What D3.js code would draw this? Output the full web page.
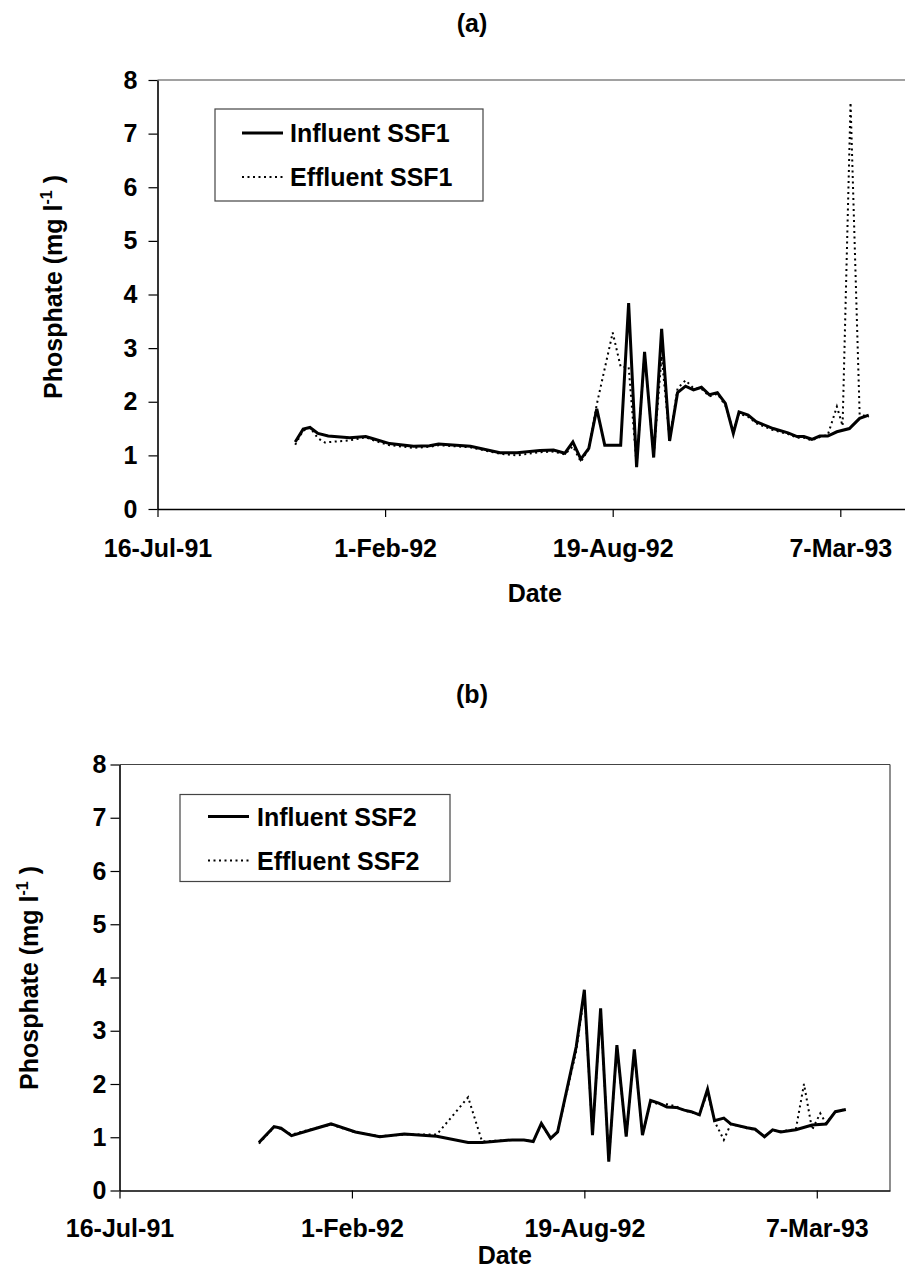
<!DOCTYPE html>
<html><head><meta charset="utf-8">
<script src="https://cdn.jsdelivr.net/npm/d3@7/dist/d3.min.js"></script>
<style>
body{margin:0;background:#fff}
text{font-family:"Liberation Sans",Arial,sans-serif;font-weight:bold;fill:#000}
</style>
</head><body>
<svg id="c" width="905" height="1272"></svg>
<script>
// ---------- data ----------
const xTickDates  = ["1991-07-16","1992-02-01","1992-08-19","1993-03-07"];
const xTickLabels = ["16-Jul-91","1-Feb-92","19-Aug-92","7-Mar-93"];
const xDomain     = ["1991-07-16","1993-05-09"];
const yTicks      = [0,1,2,3,4,5,6,7,8];

const datesInfluentA = ["1991-11-14","1991-11-21","1991-11-27","1991-12-04","1991-12-13","1992-01-01","1992-01-15","1992-01-23","1992-02-05","1992-02-26","1992-03-11","1992-03-19","1992-04-16","1992-05-12","1992-05-27","1992-06-16","1992-06-28","1992-07-08","1992-07-15","1992-07-22","1992-07-29","1992-08-05","1992-08-12","1992-08-26","1992-09-02","1992-09-09","1992-09-16","1992-09-24","1992-10-01","1992-10-08","1992-10-15","1992-10-22","1992-10-29","1992-11-05","1992-11-12","1992-11-19","1992-11-26","1992-12-03","1992-12-08","1992-12-16","1992-12-23","1993-01-07","1993-01-20","1993-01-28","1993-02-03","1993-02-10","1993-02-17","1993-02-24","1993-03-04","1993-03-15","1993-03-24","1993-04-01"];
const valuesInfluentA = [1.25,1.49,1.52,1.41,1.36,1.33,1.35,1.30,1.22,1.17,1.18,1.21,1.17,1.05,1.05,1.09,1.10,1.04,1.25,0.93,1.13,1.87,1.19,1.19,3.84,0.78,2.93,0.96,3.36,1.27,2.17,2.29,2.22,2.27,2.13,2.17,1.97,1.41,1.81,1.75,1.63,1.50,1.42,1.35,1.35,1.30,1.36,1.36,1.44,1.50,1.69,1.75];

const datesEffluentA = ["1991-11-14","1991-11-21","1991-11-27","1991-12-04","1991-12-10","1991-12-20","1991-12-27","1992-01-04","1992-01-15","1992-01-23","1992-02-05","1992-02-26","1992-03-11","1992-03-19","1992-04-16","1992-05-12","1992-05-27","1992-06-16","1992-06-28","1992-07-08","1992-07-15","1992-07-22","1992-07-29","1992-08-05","1992-08-19","1992-08-26","1992-09-02","1992-09-09","1992-09-16","1992-09-24","1992-10-01","1992-10-08","1992-10-15","1992-10-22","1992-10-29","1992-11-05","1992-11-12","1992-11-19","1992-11-26","1992-12-03","1992-12-08","1992-12-16","1992-12-23","1993-01-07","1993-01-20","1993-01-28","1993-02-03","1993-02-10","1993-02-17","1993-02-24","1993-03-04","1993-03-09","1993-03-16","1993-03-24","1993-04-01"];
const valuesEffluentA = [1.20,1.46,1.52,1.32,1.24,1.26,1.27,1.29,1.34,1.27,1.19,1.14,1.16,1.19,1.15,1.03,1.00,1.06,1.07,1.02,1.17,0.88,1.12,1.95,3.29,2.65,2.65,0.82,2.90,1.00,2.85,1.30,2.25,2.40,2.25,2.24,2.10,2.15,1.93,1.45,1.78,1.72,1.60,1.47,1.40,1.33,1.33,1.28,1.34,1.38,1.91,1.55,7.58,1.76,1.72];

const datesInfluentB = ["1991-11-13","1991-11-26","1991-12-02","1991-12-11","1991-12-28","1992-01-14","1992-02-04","1992-02-25","1992-03-17","1992-04-14","1992-05-11","1992-05-23","1992-06-18","1992-06-28","1992-07-06","1992-07-13","1992-07-21","1992-07-27","1992-08-12","1992-08-19","1992-08-26","1992-09-02","1992-09-09","1992-09-16","1992-09-24","1992-10-01","1992-10-08","1992-10-15","1992-10-22","1992-10-29","1992-11-06","1992-11-13","1992-11-19","1992-11-26","1992-12-03","1992-12-09","1992-12-17","1992-12-23","1993-01-06","1993-01-13","1993-01-21","1993-01-28","1993-02-04","1993-02-17","1993-03-03","1993-03-15","1993-03-23","1993-04-01"];
const valuesInfluentB = [0.90,1.20,1.17,1.03,1.14,1.25,1.10,1.01,1.06,1.02,0.90,0.90,0.95,0.95,0.92,1.26,0.98,1.10,2.70,3.77,1.04,3.42,0.54,2.73,1.01,2.65,1.04,1.69,1.64,1.57,1.56,1.51,1.48,1.42,1.90,1.31,1.36,1.25,1.18,1.15,1.01,1.14,1.10,1.14,1.23,1.25,1.48,1.52];

const datesEffluentB = ["1991-11-13","1991-11-26","1991-12-02","1991-12-11","1991-12-28","1992-01-14","1992-02-04","1992-02-25","1992-03-17","1992-04-14","1992-05-11","1992-05-23","1992-06-18","1992-06-28","1992-07-06","1992-07-13","1992-07-21","1992-07-27","1992-08-12","1992-08-19","1992-08-26","1992-09-02","1992-09-09","1992-09-16","1992-09-24","1992-10-01","1992-10-08","1992-10-15","1992-10-22","1992-10-29","1992-11-06","1992-11-13","1992-11-19","1992-11-26","1992-12-03","1992-12-09","1992-12-17","1992-12-23","1993-01-06","1993-01-13","1993-01-21","1993-01-28","1993-02-04","1993-02-17","1993-02-24","1993-03-03","1993-03-10","1993-03-15","1993-03-23","1993-04-01"];
const valuesEffluentB = [0.88,1.19,1.16,1.05,1.15,1.24,1.09,1.02,1.05,1.05,1.75,0.92,0.95,0.95,0.92,1.24,0.98,1.10,2.62,3.70,1.04,3.38,0.56,2.70,1.02,2.62,1.04,1.67,1.62,1.62,1.58,1.50,1.47,1.42,1.85,1.30,0.95,1.25,1.17,1.14,1.02,1.13,1.11,1.15,2.00,1.14,1.45,1.26,1.48,1.53];

// ---------- drawing ----------
const parse = d3.utcParse("%Y-%m-%d");
const svg = d3.select("#c");

function zip(ds, vs){ return ds.map((d,i)=>({date:parse(d), value:vs[i]})); }

function panel(cfg){
  const g = svg.append("g");
  const x = d3.scaleUtc().domain(xDomain.map(parse)).range([cfg.left, cfg.right]);
  const y = d3.scaleLinear().domain([0,8]).range([cfg.bottom, cfg.top]);

  g.append("line").attr("x1",cfg.left).attr("x2",cfg.right).attr("y1",cfg.top).attr("y2",cfg.top)
    .attr("stroke","#444").attr("stroke-width",1.2);
  g.append("line").attr("x1",cfg.right).attr("x2",cfg.right).attr("y1",cfg.top).attr("y2",cfg.bottom)
    .attr("stroke","#444").attr("stroke-width",1.2);

  const ya = g.append("g").attr("transform",`translate(${cfg.left},0)`)
    .call(d3.axisLeft(y).tickValues(yTicks).tickFormat(d3.format("d")).tickSize(9).tickSizeOuter(0).tickPadding(cfg.yPad));
  ya.selectAll("text").style("font-size","25px");
  ya.select(".domain").attr("stroke","#000").attr("stroke-width",1.6);
  ya.selectAll(".tick line").attr("stroke","#000").attr("stroke-width",1.2);

  const xa = g.append("g").attr("transform",`translate(0,${cfg.bottom})`)
    .call(d3.axisBottom(x).tickValues(xTickDates.map(parse)).tickFormat((d,i)=>xTickLabels[i]).tickSize(8).tickSizeOuter(0));
  xa.selectAll("text").style("font-size","25px").attr("dy",0).attr("y",cfg.xLabOff);
  xa.select(".domain").attr("stroke","#000").attr("stroke-width",1.6);
  xa.selectAll(".tick line").attr("stroke","#000").attr("stroke-width",1.2);

  const line = d3.line().x(d=>x(d.date)).y(d=>y(d.value));
  g.append("path").datum(zip(cfg.dIn,cfg.vIn)).attr("d",line)
    .attr("fill","none").attr("stroke","#000").attr("stroke-width",3);
  g.append("path").datum(zip(cfg.dEf,cfg.vEf)).attr("d",line)
    .attr("fill","none").attr("stroke","#000").attr("stroke-width",2).attr("stroke-dasharray","2,3.5");

  g.append("text").attr("x",cfg.titleX).attr("y",cfg.titleY).attr("text-anchor","middle")
    .style("font-size","25px").text(cfg.title);
  g.append("text").attr("x",(cfg.left+cfg.right)/2).attr("y",cfg.dateY).attr("text-anchor","middle")
    .style("font-size","25px").text("Date");
  const yl = g.append("text").attr("transform",`translate(${cfg.yLabX},${cfg.yLabY}) rotate(-90)`)
    .attr("text-anchor","middle").style("font-size","25px");
  yl.append("tspan").text("Phosphate (mg l");
  yl.append("tspan").attr("dy",-10).style("font-size","16px").text("-1");
  yl.append("tspan").attr("dy",10).text(" )");

  const L = cfg.legend;
  g.append("rect").attr("x",L.x).attr("y",L.y).attr("width",L.w).attr("height",L.h)
    .attr("fill","#fff").attr("stroke","#444").attr("stroke-width",1.2);
  const rows = [
    {label:cfg.names[0], dash:null, w:3},
    {label:cfg.names[1], dash:"2,3.5", w:2}
  ];
  rows.forEach((r,i)=>{
    const yy = L.y + L.r0 + i*L.dr;
    const ln = g.append("line").attr("x1",L.x+L.lx).attr("x2",L.x+L.lx+41).attr("y1",yy).attr("y2",yy)
      .attr("stroke","#000").attr("stroke-width",r.w);
    if(r.dash) ln.attr("stroke-dasharray",r.dash);
    g.append("text").attr("x",L.x+L.tx).attr("y",yy+9).style("font-size","25px").text(r.label);
  });
}

panel({left:157.5,right:912,top:80,bottom:509,yPad:11,xLabOff:48,
  title:"(a)",titleX:472,titleY:32,dateY:602,yLabX:62,yLabY:287,
  dIn:datesInfluentA,vIn:valuesInfluentA,dEf:datesEffluentA,vEf:valuesEffluentA,
  names:["Influent SSF1","Effluent SSF1"],
  legend:{x:215,y:109,w:268,h:92,r0:24,dr:44,lx:27,tx:75}});

panel({left:119.5,right:890,top:764.5,bottom:1190.5,yPad:4,xLabOff:46,
  title:"(b)",titleX:472,titleY:703,dateY:1264,yLabX:38,yLabY:978,
  dIn:datesInfluentB,vIn:valuesInfluentB,dEf:datesEffluentB,vEf:valuesEffluentB,
  names:["Influent SSF2","Effluent SSF2"],
  legend:{x:180,y:794.5,w:270,h:87,r0:22,dr:44,lx:28,tx:77}});
</script>
</body></html>
